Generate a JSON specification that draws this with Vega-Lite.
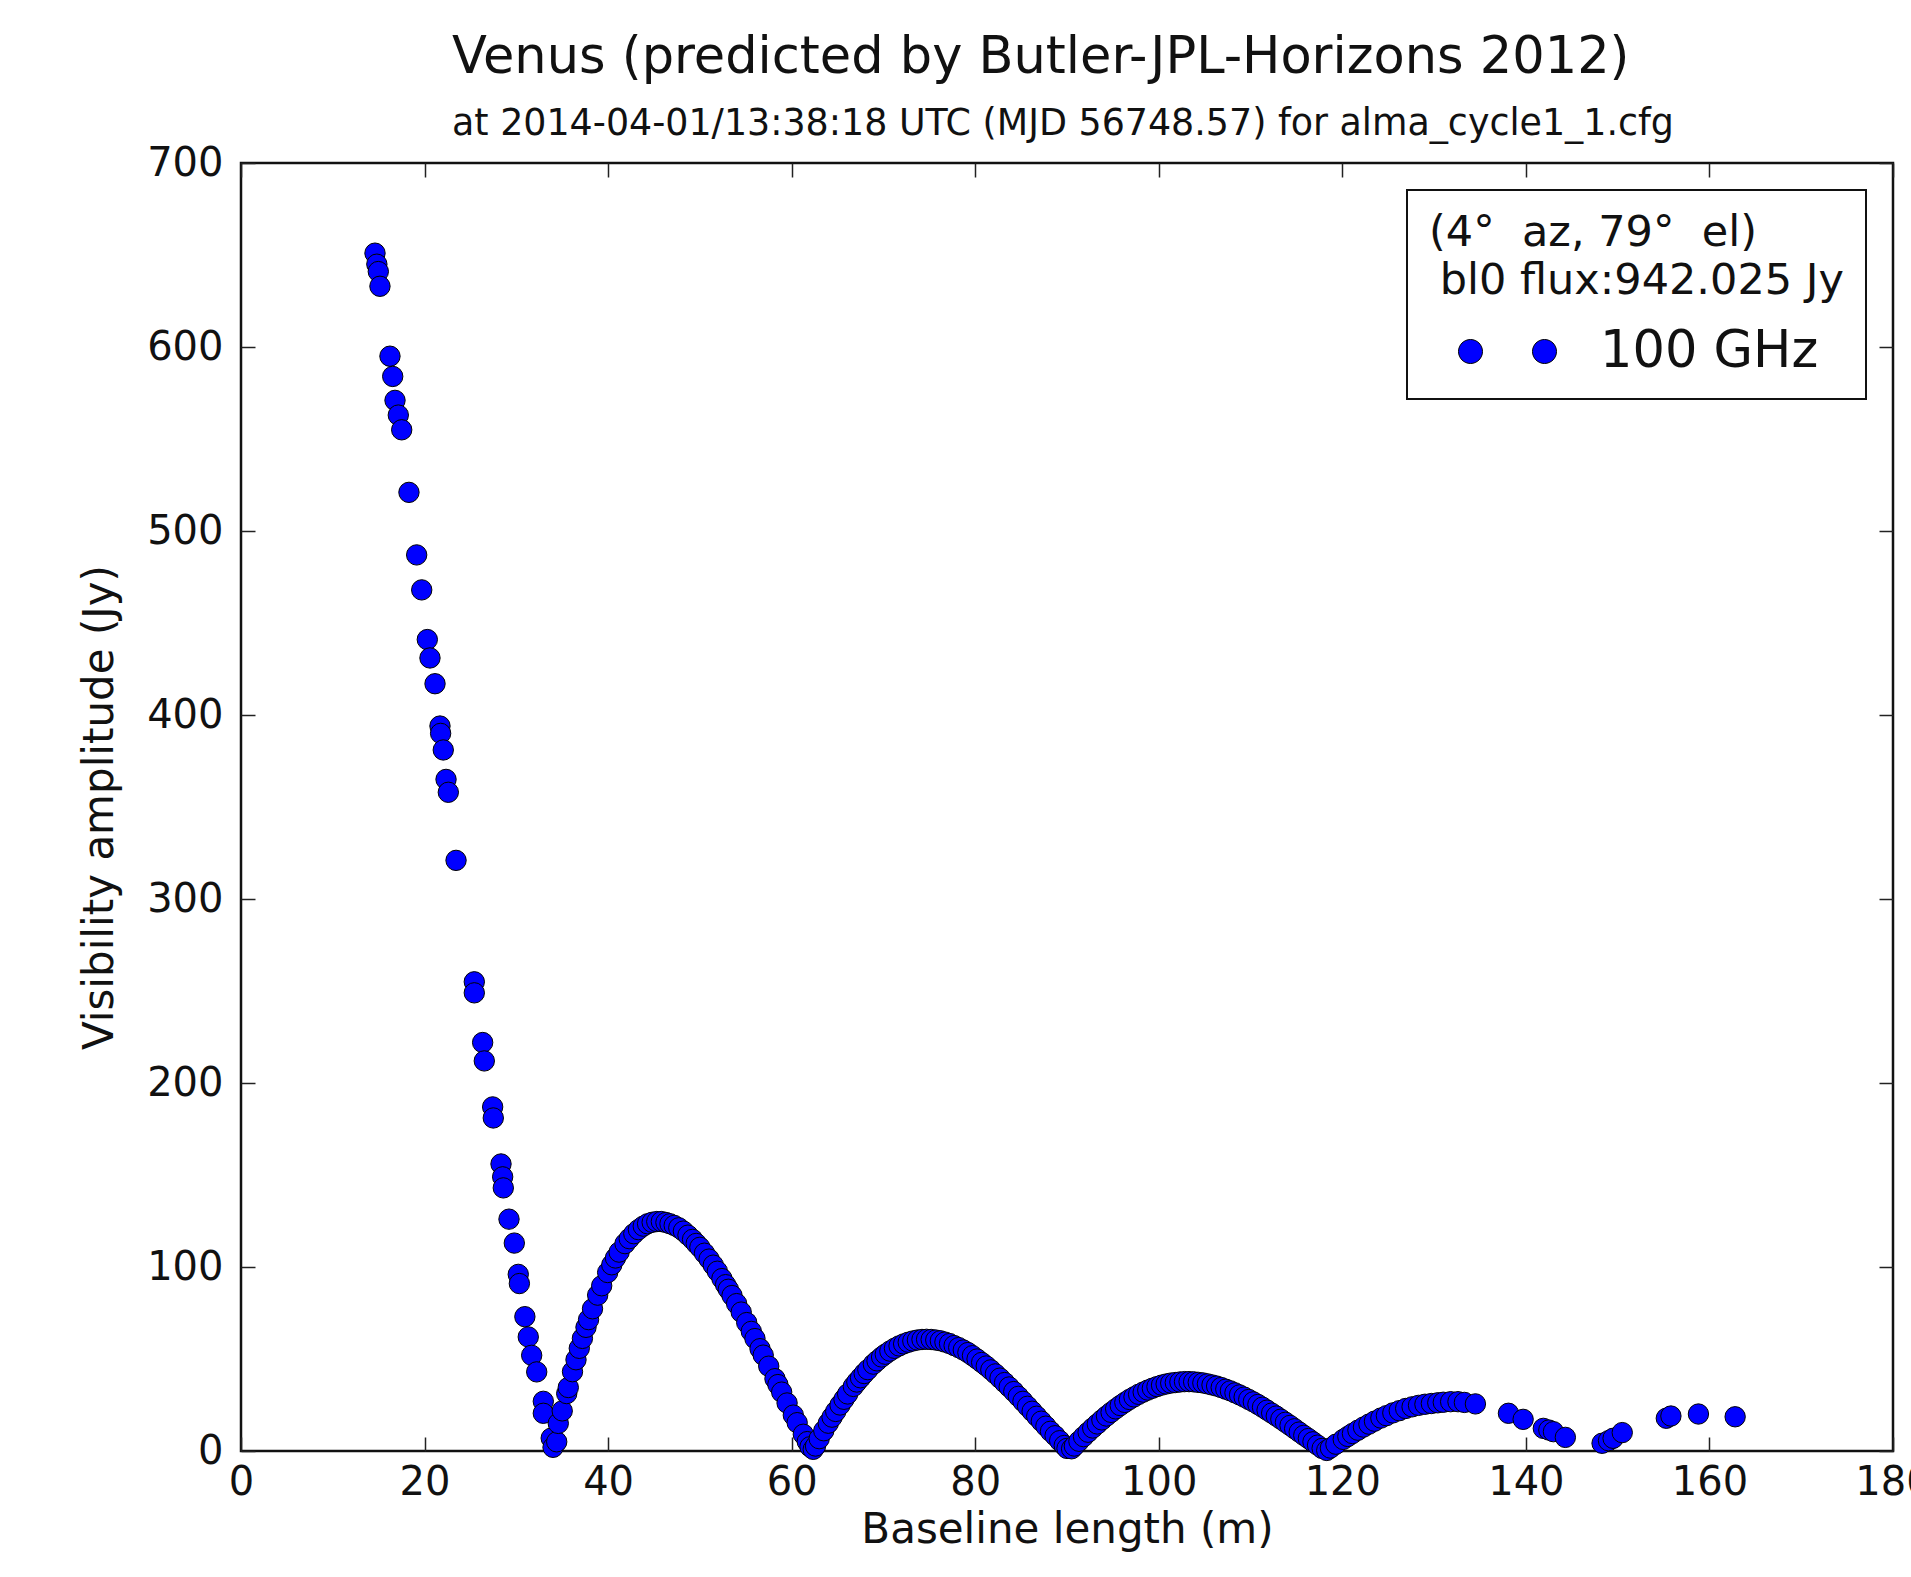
{
  "$schema": "https://vega.github.io/schema/vega-lite/v6.json",
  "width": 1652,
  "height": 1288,
  "autosize": {"type": "none"},
  "padding": {"left": 241, "top": 163, "right": 18, "bottom": 126},
  "background": "white",
  "config": {
    "font": "DejaVu Sans",
    "view": {"stroke": "#111111", "strokeWidth": 2.5},
    "axis": {
      "grid": false,
      "domain": false,
      "tickSize": -14,
      "tickWidth": 1.5,
      "tickColor": "#222222",
      "labelFont": "DejaVu Sans",
      "labelFontSize": 40,
      "labelColor": "#111111",
      "labelFlush": false,
      "labelOverlap": false,
      "titleFont": "DejaVu Sans",
      "titleFontSize": 42,
      "titleFontWeight": "normal",
      "titleColor": "#111111"
    },
    "legend": {"strokeWidth": 2}
  },
  "title": {
    "text": "Venus (predicted by Butler-JPL-Horizons 2012)",
    "subtitle": "at 2014-04-01/13:38:18 UTC (MJD 56748.57) for alma_cycle1_1.cfg",
    "anchor": "start",
    "frame": "group",
    "dx": 211,
    "offset": 0,
    "subtitlePadding": 22,
    "font": "DejaVu Sans",
    "subtitleFont": "DejaVu Sans",
    "fontSize": 51,
    "subtitleFontSize": 36.4,
    "fontWeight": "normal",
    "subtitleFontWeight": "normal",
    "color": "#111111",
    "subtitleColor": "#111111"
  },
  "data": {
    "values": [
      {"b": 14.6, "amp": 651}, {"b": 14.8, "amp": 645}, {"b": 14.96, "amp": 641}, {"b": 15.14, "amp": 633},
      {"b": 16.23, "amp": 595}, {"b": 16.53, "amp": 584}, {"b": 16.78, "amp": 571}, {"b": 17.14, "amp": 563},
      {"b": 17.51, "amp": 555}, {"b": 18.3, "amp": 521}, {"b": 19.14, "amp": 487}, {"b": 19.69, "amp": 468},
      {"b": 20.3, "amp": 441}, {"b": 20.59, "amp": 431}, {"b": 21.14, "amp": 417}, {"b": 21.68, "amp": 394},
      {"b": 21.75, "amp": 390}, {"b": 22.04, "amp": 381}, {"b": 22.34, "amp": 365}, {"b": 22.59, "amp": 358},
      {"b": 23.43, "amp": 321}, {"b": 25.42, "amp": 255}, {"b": 25.42, "amp": 249}, {"b": 26.33, "amp": 222},
      {"b": 26.51, "amp": 212}, {"b": 27.42, "amp": 187}, {"b": 27.49, "amp": 181}, {"b": 28.33, "amp": 156},
      {"b": 28.51, "amp": 149}, {"b": 28.58, "amp": 143}, {"b": 29.2, "amp": 126}, {"b": 29.78, "amp": 113},
      {"b": 30.21, "amp": 96}, {"b": 30.33, "amp": 91}, {"b": 30.93, "amp": 73}, {"b": 31.3, "amp": 62},
      {"b": 31.67, "amp": 52}, {"b": 32.22, "amp": 43}, {"b": 32.94, "amp": 27}, {"b": 32.94, "amp": 20.5},
      {"b": 33.8, "amp": 7}, {"b": 34.0, "amp": 2}, {"b": 34.4, "amp": 5}, {"b": 34.57, "amp": 15},
      {"b": 35.0, "amp": 21.8}, {"b": 35.49, "amp": 31.2}, {"b": 35.66, "amp": 34.5}, {"b": 36.12, "amp": 43.1},
      {"b": 36.5, "amp": 49.6}, {"b": 36.86, "amp": 55.8}, {"b": 37.2, "amp": 61.2}, {"b": 37.59, "amp": 67.2},
      {"b": 37.87, "amp": 71.4}, {"b": 38.3, "amp": 77.3}, {"b": 38.86, "amp": 84.7}, {"b": 39.3, "amp": 89.8},
      {"b": 39.95, "amp": 97.0}, {"b": 40.4, "amp": 101.2}, {"b": 40.8, "amp": 104.9}, {"b": 41.2, "amp": 108.1},
      {"b": 41.84, "amp": 112.7}, {"b": 42.3, "amp": 115.4}, {"b": 42.8, "amp": 118.1}, {"b": 43.3, "amp": 120.3},
      {"b": 43.83, "amp": 122.2}, {"b": 44.3, "amp": 123.5}, {"b": 44.8, "amp": 124.3}, {"b": 45.3, "amp": 124.7},
      {"b": 45.8, "amp": 124.7}, {"b": 46.3, "amp": 124.2}, {"b": 46.74, "amp": 123.5}, {"b": 47.2, "amp": 122.6},
      {"b": 47.7, "amp": 121.3}, {"b": 48.2, "amp": 119.5}, {"b": 48.7, "amp": 117.3}, {"b": 49.2, "amp": 115.0},
      {"b": 49.6, "amp": 112.8}, {"b": 50.0, "amp": 110.7}, {"b": 50.5, "amp": 107.5}, {"b": 51.0, "amp": 104.3},
      {"b": 51.46, "amp": 101.0}, {"b": 51.9, "amp": 97.7}, {"b": 52.4, "amp": 93.7}, {"b": 52.8, "amp": 90.4},
      {"b": 53.1, "amp": 87.9}, {"b": 53.5, "amp": 84.5}, {"b": 54.0, "amp": 80.1}, {"b": 54.5, "amp": 75.5},
      {"b": 55.1, "amp": 69.8}, {"b": 55.6, "amp": 65.0}, {"b": 56.0, "amp": 61.1}, {"b": 56.55, "amp": 55.6},
      {"b": 56.9, "amp": 52.1}, {"b": 57.5, "amp": 46.1}, {"b": 58.18, "amp": 39.3}, {"b": 58.5, "amp": 36.1},
      {"b": 58.91, "amp": 32.0}, {"b": 59.5, "amp": 26.1}, {"b": 60.18, "amp": 19.5}, {"b": 60.6, "amp": 15.4},
      {"b": 61.27, "amp": 9.1}, {"b": 61.7, "amp": 5.1}, {"b": 62.0, "amp": 2.3}, {"b": 62.35, "amp": 0.9},
      {"b": 62.6, "amp": 2.7}, {"b": 63.0, "amp": 6.7}, {"b": 63.5, "amp": 11.0}, {"b": 63.99, "amp": 15.1},
      {"b": 64.4, "amp": 18.4}, {"b": 64.8, "amp": 21.5}, {"b": 65.27, "amp": 25.0}, {"b": 65.7, "amp": 28.1},
      {"b": 66.1, "amp": 31.0}, {"b": 66.72, "amp": 35.1}, {"b": 67.1, "amp": 37.5}, {"b": 67.5, "amp": 39.8},
      {"b": 67.9, "amp": 42.1}, {"b": 68.3, "amp": 44.2}, {"b": 68.9, "amp": 47.2}, {"b": 69.3, "amp": 49.0},
      {"b": 69.8, "amp": 51.1}, {"b": 70.2, "amp": 52.6}, {"b": 70.7, "amp": 54.3}, {"b": 71.2, "amp": 55.8},
      {"b": 71.7, "amp": 57.1}, {"b": 72.2, "amp": 58.2}, {"b": 72.7, "amp": 59.1}, {"b": 73.2, "amp": 59.8},
      {"b": 73.7, "amp": 60.3}, {"b": 74.2, "amp": 60.6}, {"b": 74.7, "amp": 60.7}, {"b": 75.2, "amp": 60.6},
      {"b": 75.7, "amp": 60.3}, {"b": 76.2, "amp": 59.9}, {"b": 76.7, "amp": 59.2}, {"b": 77.2, "amp": 58.4},
      {"b": 77.7, "amp": 57.3}, {"b": 78.2, "amp": 56.2}, {"b": 78.7, "amp": 54.9}, {"b": 79.2, "amp": 53.5},
      {"b": 79.7, "amp": 51.8}, {"b": 80.2, "amp": 50.0}, {"b": 80.7, "amp": 48.1}, {"b": 81.2, "amp": 46.2},
      {"b": 81.7, "amp": 44.1}, {"b": 82.2, "amp": 41.9}, {"b": 82.7, "amp": 39.6}, {"b": 83.2, "amp": 37.2},
      {"b": 83.7, "amp": 34.8}, {"b": 84.2, "amp": 32.3}, {"b": 84.7, "amp": 29.7}, {"b": 85.2, "amp": 27.0},
      {"b": 85.7, "amp": 24.3}, {"b": 86.2, "amp": 21.6}, {"b": 86.7, "amp": 18.9}, {"b": 87.2, "amp": 16.2},
      {"b": 87.7, "amp": 13.5}, {"b": 88.2, "amp": 10.7}, {"b": 88.7, "amp": 8.3}, {"b": 89.2, "amp": 5.6},
      {"b": 89.7, "amp": 3.0}, {"b": 90.0, "amp": 1.4}, {"b": 90.5, "amp": 1.2}, {"b": 90.8, "amp": 2.7},
      {"b": 91.3, "amp": 5.3}, {"b": 91.8, "amp": 7.8}, {"b": 92.3, "amp": 10.2}, {"b": 92.8, "amp": 12.5},
      {"b": 93.3, "amp": 14.7}, {"b": 93.8, "amp": 16.9}, {"b": 94.3, "amp": 19.0}, {"b": 94.8, "amp": 21.0},
      {"b": 95.3, "amp": 22.9}, {"b": 95.8, "amp": 24.7}, {"b": 96.3, "amp": 26.4}, {"b": 96.8, "amp": 28.0},
      {"b": 97.3, "amp": 29.4}, {"b": 97.8, "amp": 30.8}, {"b": 98.3, "amp": 32.0}, {"b": 98.8, "amp": 33.1},
      {"b": 99.3, "amp": 34.1}, {"b": 99.8, "amp": 35.0}, {"b": 100.3, "amp": 35.8}, {"b": 100.8, "amp": 36.4},
      {"b": 101.3, "amp": 36.9}, {"b": 101.8, "amp": 37.2}, {"b": 102.3, "amp": 37.5}, {"b": 102.8, "amp": 37.7},
      {"b": 103.3, "amp": 37.7}, {"b": 103.8, "amp": 37.6}, {"b": 104.3, "amp": 37.3}, {"b": 104.8, "amp": 37.0},
      {"b": 105.3, "amp": 36.5}, {"b": 105.8, "amp": 35.9}, {"b": 106.3, "amp": 35.3}, {"b": 106.8, "amp": 34.5},
      {"b": 107.3, "amp": 33.6}, {"b": 107.8, "amp": 32.7}, {"b": 108.3, "amp": 31.6}, {"b": 108.8, "amp": 30.5},
      {"b": 109.3, "amp": 29.3}, {"b": 109.8, "amp": 28.0}, {"b": 110.3, "amp": 26.7}, {"b": 110.8, "amp": 25.3},
      {"b": 111.3, "amp": 23.8}, {"b": 111.8, "amp": 22.2}, {"b": 112.3, "amp": 20.6}, {"b": 112.8, "amp": 19.0},
      {"b": 113.3, "amp": 17.3}, {"b": 113.8, "amp": 15.6}, {"b": 114.3, "amp": 13.9}, {"b": 114.8, "amp": 12.1},
      {"b": 115.3, "amp": 10.3}, {"b": 115.8, "amp": 8.5}, {"b": 116.3, "amp": 6.8}, {"b": 116.8, "amp": 5.0},
      {"b": 117.3, "amp": 3.2}, {"b": 117.8, "amp": 1.4}, {"b": 118.3, "amp": 0.3}, {"b": 118.7, "amp": 1.6},
      {"b": 119.3, "amp": 3.7}, {"b": 120.1, "amp": 6.3}, {"b": 120.6, "amp": 7.9}, {"b": 121.1, "amp": 9.5},
      {"b": 121.7, "amp": 11.3}, {"b": 122.3, "amp": 13.0}, {"b": 122.9, "amp": 14.6}, {"b": 123.5, "amp": 16.2},
      {"b": 124.2, "amp": 17.9}, {"b": 124.8, "amp": 19.2}, {"b": 125.5, "amp": 20.7}, {"b": 126.2, "amp": 21.9},
      {"b": 126.9, "amp": 23.1}, {"b": 127.6, "amp": 24.0}, {"b": 128.3, "amp": 24.8}, {"b": 129.0, "amp": 25.4},
      {"b": 129.7, "amp": 25.8}, {"b": 130.4, "amp": 26.2}, {"b": 131.0, "amp": 26.5}, {"b": 131.8, "amp": 26.8},
      {"b": 132.6, "amp": 26.8}, {"b": 133.3, "amp": 26.4}, {"b": 134.5, "amp": 25.6}, {"b": 138.1, "amp": 20.5},
      {"b": 139.7, "amp": 17.2}, {"b": 141.9, "amp": 12.3}, {"b": 142.5, "amp": 11.4}, {"b": 143.0, "amp": 10.5},
      {"b": 144.3, "amp": 7.4}, {"b": 148.3, "amp": 4.2}, {"b": 149.0, "amp": 5.6}, {"b": 149.5, "amp": 6.9},
      {"b": 150.5, "amp": 10.0}, {"b": 155.3, "amp": 17.8}, {"b": 155.8, "amp": 19.0}, {"b": 158.8, "amp": 20.1},
      {"b": 162.8, "amp": 18.6}
    ]
  },
  "resolve": {"axis": {"x": "independent", "y": "independent"}},
  "layer": [
    {
      "mark": {"type": "point", "filled": true, "size": 415, "stroke": "#000000", "strokeWidth": 1, "opacity": 1, "fillOpacity": 1},
      "encoding": {
        "x": {
          "field": "b", "type": "quantitative",
          "scale": {"domain": [0, 180], "nice": false, "zero": false},
          "axis": {
            "orient": "bottom",
            "values": [0, 20, 40, 60, 80, 100, 120, 140, 160, 180],
            "labelPadding": 25,
            "title": "Baseline length (m)",
            "titleBaseline": "alphabetic",
            "titleY": 91
          }
        },
        "y": {
          "field": "amp", "type": "quantitative",
          "scale": {"domain": [0, 700], "nice": false, "zero": false},
          "axis": {
            "orient": "left",
            "values": [0, 100, 200, 300, 400, 500, 600, 700],
            "labelPadding": 32,
            "title": "Visibility amplitude (Jy)",
            "titleBaseline": "alphabetic",
            "titleX": -129
          }
        },
        "color": {
          "datum": "100 GHz",
          "scale": {"range": ["#0000ff"]},
          "legend": {
            "title": ["(4°\u00a0 az, 79°\u00a0 el)", "\u200b\u2005bl0 flux:942.025 Jy"],
            "orient": "top-right",
            "offset": 27,
            "padding": 22,
            "strokeColor": "#111111",
            "fillColor": "white",
            "cornerRadius": 0,
            "titleFont": "DejaVu Sans",
            "titleFontSize": 43,
            "titleFontWeight": "normal",
            "titleColor": "#111111",
            "titleLineHeight": 48,
            "titlePadding": 23,
            "titleLimit": 2000,
            "labelFont": "DejaVu Sans",
            "labelFontSize": 51,
            "labelColor": "#111111",
            "labelLimit": 2000,
            "labelOffset": 67,
            "symbolType": "M -1.96 0 A 0.48 0.48 0 1 0 -1 0 A 0.48 0.48 0 1 0 -1.96 0 Z M 1 0 A 0.48 0.48 0 1 0 1.96 0 A 0.48 0.48 0 1 0 1 0 Z",
            "symbolSize": 2500,
            "symbolStrokeColor": "#000000",
            "symbolStrokeWidth": 1,
            "symbolOffset": 53,
            "symbolOpacity": 1
          }
        }
      }
    },
    {
      "mark": {"type": "point", "opacity": 0, "size": 1},
      "encoding": {
        "x": {
          "field": "b", "type": "quantitative",
          "axis": {"orient": "top", "values": [0, 20, 40, 60, 80, 100, 120, 140, 160, 180], "labels": false, "title": null}
        },
        "y": {
          "field": "amp", "type": "quantitative",
          "axis": {"orient": "right", "values": [0, 100, 200, 300, 400, 500, 600, 700], "labels": false, "title": null}
        }
      }
    }
  ]
}
